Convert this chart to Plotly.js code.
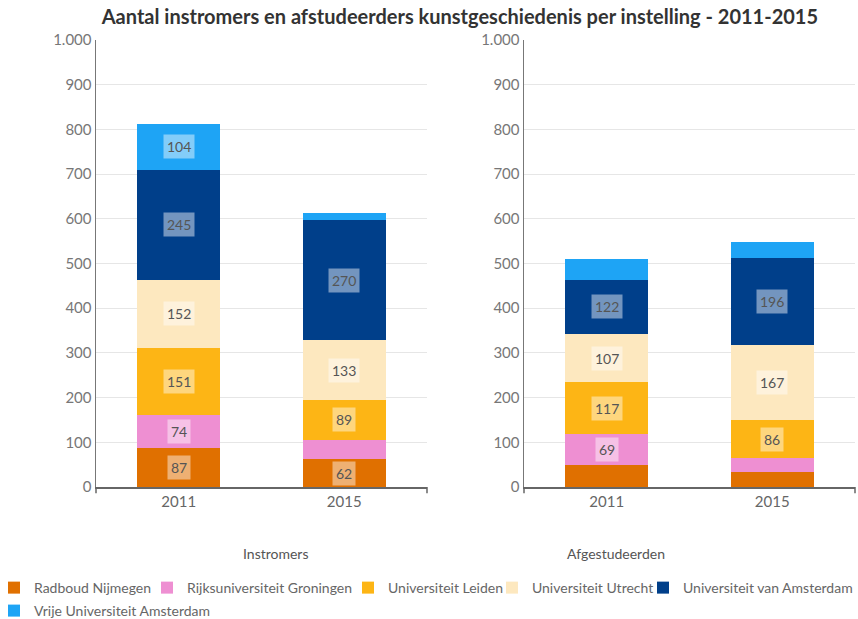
<!DOCTYPE html>
<html>
<head>
<meta charset="utf-8">
<script src="https://cdn.plot.ly/plotly-3.0.1.min.js"></script>
<style>html,body{margin:0;padding:0;background:#fff;}#chart{width:858px;height:619px;}#err{position:absolute;left:100px;top:60px;color:red;font:12px monospace;white-space:pre-wrap;width:600px;}</style>
</head>
<body>
<div id="chart"></div>
<div id="err"></div>
<script>
window.onerror = function(m, s, l, c, e) { document.getElementById("err").textContent += "ERR: " + m + " @" + l + ":" + c + "\n"; };
// ---- data ----
const years = ["2011", "2015"];
const institutions = ["Radboud Nijmegen", "Rijksuniversiteit Groningen", "Universiteit Leiden", "Universiteit Utrecht", "Universiteit van Amsterdam", "Vrije Universiteit Amsterdam"];
const colors = ["#e07000", "#ee8fd2", "#fdb515", "#fde8bf", "#003f8a", "#1ea4f5"];
// Instromers per institution: [2011, 2015]
const instromers = [
  [87, 62],
  [74, 44],
  [151, 89],
  [152, 133],
  [245, 270],
  [104, 15]
];
// Afgestudeerden per institution: [2011, 2015]
const afgestudeerden = [
  [49, 34],
  [69, 30],
  [117, 86],
  [107, 167],
  [122, 196],
  [46, 35]
];
const panelTitles = ["Instromers", "Afgestudeerden"];
const chartTitle = "Aantal instromers en afstudeerders kunstgeschiedenis per instelling - 2011-2015";
const labelThreshold = 60;

// legend placement (layout only)
const legendX = [-0.1344, 0.0672, 0.3320, 0.5217, 0.7207, -0.1344];
const legendY = [-0.226, -0.226, -0.226, -0.226, -0.226, -0.2774];

// ---- traces ----
const traces = [];
const annotations = [];
const panels = [instromers, afgestudeerden];
const axNames = [["x", "y"], ["x2", "y2"]];
const legendIds = institutions.map((_, i) => i === 0 ? "legend" : "legend" + (i + 1));
panels.forEach((panel, p) => {
  const base = years.map(() => 0);
  panel.forEach((vals, i) => {
    traces.push({
      type: "bar",
      name: institutions[i],
      x: years,
      y: vals,
      xaxis: axNames[p][0],
      yaxis: axNames[p][1],
      marker: {color: colors[i], line: {width: 0}},
      showlegend: p === 0,
      legend: legendIds[i]
    });
    vals.forEach((v, k) => {
      if (v >= labelThreshold) {
        annotations.push({
          xref: axNames[p][0], yref: axNames[p][1],
          x: k, y: base[k] + v / 2,
          text: String(v), showarrow: false,
          bgcolor: "rgba(255,255,255,0.45)",
          borderpad: 3,
          font: {family: "Lato, sans-serif", size: 14, color: "#555"}
        });
      }
      base[k] += v;
    });
  });
});

annotations.push({xref: "paper", yref: "paper", x: 0.191, y: -0.148, text: panelTitles[0], showarrow: false, yanchor: "middle",
  font: {family: "Lato, sans-serif", size: 14, color: "#555"}});
annotations.push({xref: "paper", yref: "paper", x: 0.752, y: -0.148, text: panelTitles[1], showarrow: false, yanchor: "middle",
  font: {family: "Lato, sans-serif", size: 14, color: "#555"}});

const yax = {
  range: [0, 1000], dtick: 100, tick0: 0, tickformat: ",d",
  showgrid: true, gridcolor: "#e6e6e6", gridwidth: 1,
  showline: true, linecolor: "#777", linewidth: 1.5,
  ticks: "", zeroline: false,
  tickfont: {family: "Lato, sans-serif", size: 15, color: "#777"}
};
const xax = {
  type: "category", range: [-0.5, 1.5],
  showline: true, linecolor: "#666", linewidth: 1.5,
  ticks: "", showgrid: false,
  tickfont: {family: "Lato, sans-serif", size: 15, color: "#666"}
};

const tickShapes = [];
[["x", "y"], ["x2", "y2"]].forEach(([xa, ya]) => {
  [0, 1].forEach(xv => tickShapes.push({
    type: "line", xref: xa + " domain", yref: ya + " domain",
    x0: xv, x1: xv, y0: 0, y1: -0.014,
    line: {color: "#666", width: 1.5}
  }));
});

const layout = {
  width: 858, height: 619,
  margin: {l: 96, r: 3, t: 40, b: 132, autoexpand: false},
  paper_bgcolor: "#fff", plot_bgcolor: "#fff",
  separators: ",.",
  barmode: "stack", bargap: 0.5,
  font: {family: "Lato, sans-serif", color: "#555"},
  title: {
    text: "<b>" + chartTitle + "</b>",
    x: 0.536, xref: "container", xanchor: "center",
    y: 0.9725, yref: "container", yanchor: "middle",
    font: {family: "Lato, sans-serif", size: 20, color: "#333"}
  },
  xaxis: Object.assign({}, xax, {domain: [0, 0.4361], anchor: "y"}),
  yaxis: Object.assign({}, yax, {domain: [0, 1], anchor: "x"}),
  xaxis2: Object.assign({}, xax, {domain: [0.5639, 1], anchor: "y2"}),
  yaxis2: Object.assign({}, yax, {domain: [0, 1], anchor: "x2"}),
  showlegend: true,
  annotations: annotations,
  shapes: tickShapes
};
legendIds.forEach((id, i) => {
  layout[id] = {
    orientation: "h",
    x: legendX[i], xanchor: "left",
    y: legendY[i], yanchor: "middle",
    bgcolor: "rgba(0,0,0,0)",
    font: {family: "Lato, sans-serif", size: 14, color: "#666"}
  };
});

Plotly.newPlot("chart", traces, layout, {displayModeBar: false, staticPlot: true})
  .catch(e => { document.getElementById("err").textContent += "PROMISE: " + e + "\n"; });
</script>
</body>
</html>
